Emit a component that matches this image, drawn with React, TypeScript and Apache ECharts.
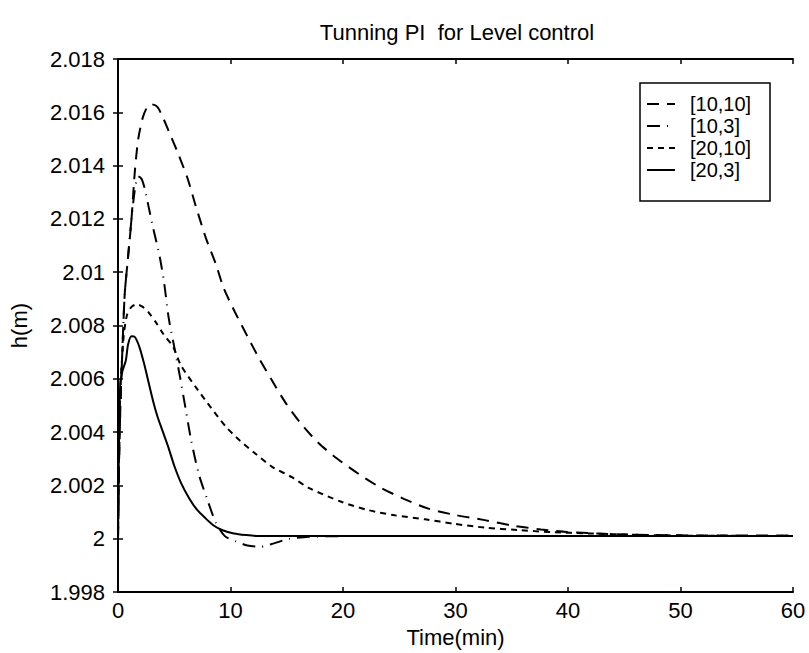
import React, { useEffect, useRef } from "react";
import * as echarts from "echarts";

const titleText = "Tunning PI  for Level control";
const xTitle = "Time(min)";
const yTitle = "h(m)";
const seriesNames = ["[10,10]", "[10,3]", "[20,10]", "[20,3]"];

const t10_10 = [0, 0.1, 0.2, 0.4, 0.6, 0.9, 1.2, 1.5, 1.8, 2.2, 2.6, 3.0, 3.5, 4.0, 4.5, 5.3, 6.2, 6.9, 7.8, 8.7, 9.4, 10.4, 11.5, 12.5, 13.6, 14.9, 16.2, 17.8, 19.5, 21.4, 23.3, 25.4, 27.6, 29.9, 32.6, 35, 37.6, 40, 42.6, 45, 50, 55, 60];
const h10_10 = [2.0, 2.003, 2.0048, 2.0072, 2.0092, 2.0106, 2.012, 2.0138, 2.015, 2.0158, 2.0162, 2.0163, 2.0162, 2.0158, 2.0153, 2.0145, 2.0135, 2.0125, 2.0113, 2.0103, 2.0094, 2.0085, 2.0076, 2.0068, 2.006, 2.0051, 2.00435, 2.0036, 2.003, 2.00243, 2.00193, 2.0015, 2.00113, 2.0009, 2.0007, 2.0005, 2.00035, 2.00025, 2.0002, 2.00016, 2.00013, 2.00012, 2.00012];

const t10_3 = [0, 0.1, 0.2, 0.4, 0.6, 0.9, 1.2, 1.5, 1.8, 2.1, 2.4, 2.7, 3.1, 3.7, 4.1, 4.5, 5.0, 5.5, 6.0, 6.5, 7.2, 8.0, 8.7, 9.5, 10.5, 11.5, 12.7, 13.8, 15.2, 17, 20, 25, 30, 35, 40, 45, 50, 55, 60];
const h10_3 = [2.0, 2.003, 2.0048, 2.0072, 2.0092, 2.0106, 2.012, 2.0131, 2.0136, 2.0135, 2.0131, 2.0125, 2.0117, 2.0106, 2.0096, 2.0083, 2.0072, 2.0061, 2.0049, 2.0037, 2.0024, 2.0014, 2.0006, 2.0001, 1.9999, 1.99975, 1.9997, 1.99982, 2.0, 2.00008, 2.0001, 2.0001, 2.0001, 2.0001, 2.0001, 2.0001, 2.0001, 2.0001, 2.0001];

const t20_10 = [0, 0.1, 0.2, 0.5, 0.8, 1.2, 1.7, 2.2, 2.7, 3.4, 4.0, 4.9, 5.6, 6.9, 8.3, 9.6, 10.8, 12.2, 13.7, 15.5, 17.0, 19.9, 22.3, 24.6, 27.3, 29.9, 32.6, 35.5, 38.5, 42, 46, 50, 55, 60];
const h20_10 = [2.0, 2.0035, 2.0055, 2.0076, 2.0084, 2.0087, 2.0088, 2.0087, 2.0085, 2.0081, 2.0077, 2.0072, 2.0065, 2.0057, 2.0049, 2.0042, 2.0037, 2.0032, 2.0027, 2.0023, 2.0019, 2.00138, 2.00107, 2.00088, 2.00073, 2.00056, 2.00042, 2.00033, 2.00025, 2.0002, 2.00015, 2.00012, 2.00011, 2.0001];

const t20_3 = [0, 0.1, 0.2, 0.4, 0.7, 0.9, 1.2, 1.5, 1.9, 2.3, 2.7, 3.1, 3.5, 4.0, 4.5, 5.0, 5.6, 6.35, 7.0, 7.8, 8.5, 9.3, 10.3, 11.35, 12.5, 13.4, 15, 20, 30, 40, 50, 60];
const h20_3 = [2.0, 2.004, 2.0058, 2.0063, 2.0067, 2.0073, 2.0076, 2.00757, 2.0072, 2.0066, 2.0059, 2.0052, 2.0046, 2.004, 2.0034, 2.00274, 2.0021, 2.0015, 2.0011, 2.00076, 2.0005, 2.00032, 2.0002, 2.00014, 2.0001, 2.0001, 2.0001, 2.0001, 2.0001, 2.0001, 2.0001, 2.0001];

const xTicks = { min: 0, max: 60, interval: 10 };
const yTicks = { min: 1.998, max: 2.018, interval: 0.002 };

const dashPatterns: any[] = [[12, 8], [13, 7, 1, 7], [6, 5], "solid"];

const FONT = "'Liberation Sans', Arial, sans-serif";

function pairs(t: number[], h: number[]) {
  return t.map((x, i) => [x, h[i]]);
}

export default function App() {
  const ref = useRef<HTMLDivElement>(null);
  useEffect(() => {
    if (!ref.current) return;
    const chart = echarts.init(ref.current, null, { renderer: "svg" });
    const datasets = [pairs(t10_10, h10_10), pairs(t10_3, h10_3), pairs(t20_10, h20_10), pairs(t20_3, h20_3)];
    const fmtY = (v: number) => String(+v.toFixed(3));
    const axisCommon = {
      axisLine: { show: true, lineStyle: { color: "#000", width: 2 } },
      axisTick: { show: true, inside: true, length: 5, lineStyle: { color: "#000", width: 1.5 } },
      splitLine: { show: false },
    };
    chart.setOption({
      animation: false,
      backgroundColor: "#fff",
      title: {
        text: titleText,
        left: 452,
        top: 16,
        textAlign: "center",
        textStyle: { fontFamily: FONT, fontSize: 22, fontWeight: "normal", color: "#000" },
      },
      grid: { left: 115, right: 16, top: 59, bottom: 56 },
      legend: {
        orient: "vertical",
        left: 640,
        top: 83,
        width: 130,
        padding: [10, 4, 20, 6],
        itemGap: 0,
        itemWidth: 28,
        itemHeight: 12,
        borderColor: "#000",
        borderWidth: 1.5,
        backgroundColor: "#fff",
        data: seriesNames,
        itemStyle: { opacity: 0 },
        textStyle: { fontFamily: FONT, fontSize: 20, lineHeight: 22, color: "#000", padding: [0, 12, 0, 10], width: 64 },
      },
      xAxis: [
        {
          type: "value",
          position: "bottom",
          ...xTicks,
          ...axisCommon,
          name: xTitle,
          nameLocation: "middle",
          nameGap: 29,
          nameTextStyle: { fontFamily: FONT, fontSize: 22, color: "#000" },
          axisLabel: { fontFamily: FONT, fontSize: 22, color: "#000", margin: 7 },
        },
        {
          type: "value",
          position: "top",
          ...xTicks,
          ...axisCommon,
          axisLabel: { show: false },
        },
      ],
      yAxis: [
        {
          type: "value",
          position: "left",
          ...yTicks,
          ...axisCommon,
          name: yTitle,
          nameLocation: "middle",
          nameGap: 88,
          nameTextStyle: { fontFamily: FONT, fontSize: 22, color: "#000" },
          axisLabel: { fontFamily: FONT, fontSize: 22, color: "#000", margin: 13, formatter: fmtY },
        },
        {
          type: "value",
          position: "right",
          ...yTicks,
          ...axisCommon,
          axisLabel: { show: false },
        },
      ],
      series: datasets.map((d, i) => ({
        name: seriesNames[i],
        type: "line",
        data: d,
        xAxisIndex: 0,
        yAxisIndex: 0,
        smooth: 0.25,
        showSymbol: false,
        symbol: "none",
        color: "#000",
        lineStyle: { color: "#000", width: 2, type: dashPatterns[i] },
      })),
    });
    return () => chart.dispose();
  }, []);
  return <div ref={ref} style={{ width: 809, height: 653, position: "absolute", left: 0, top: 0 }} />;
}
